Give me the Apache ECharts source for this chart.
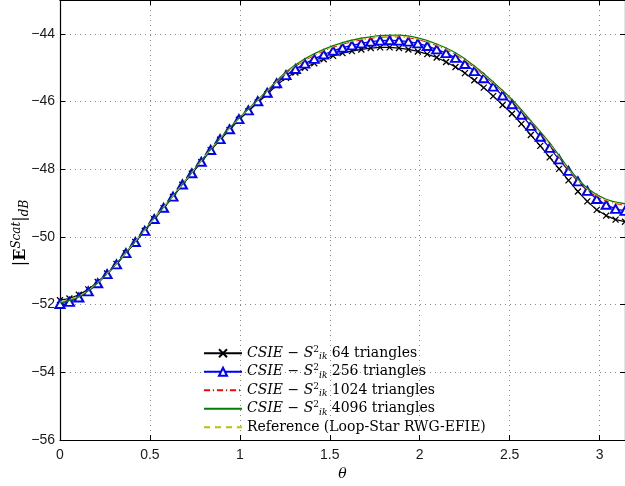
<!DOCTYPE html>
<html>
<head>
<meta charset="utf-8">
<script src="https://cdn.jsdelivr.net/npm/echarts@6/dist/echarts.min.js"></script>
<style>
html,body{margin:0;padding:0;background:#fff;}
#chart{width:625px;height:486px;}
</style>
</head>
<body>
<div id="chart"></div>
<script>
// x ticks / y ticks
const xTicks = [0, 0.5, 1, 1.5, 2, 2.5, 3];
const yTicks = [-56, -54, -52, -50, -48, -46, -44];

// sampling positions (theta): 61 points 0..pi and 31 points 0..pi
const nFine = 60;
const nCoarse = 30;

// CSIE - S2ik 64 triangles (61 points)
const csie64 = [-51.87,-51.82,-51.71,-51.55,-51.33,-51.08,-50.80,-50.48,-50.15,-49.82,
  -49.48,-49.15,-48.82,-48.46,-48.13,-47.79,-47.44,-47.13,-46.84,-46.54,
  -46.29,-46.03,-45.79,-45.52,-45.30,-45.14,-45.00,-44.87,-44.75,-44.65,
  -44.57,-44.51,-44.46,-44.42,-44.40,-44.40,-44.42,-44.46,-44.52,-44.60,
  -44.70,-44.83,-44.98,-45.16,-45.37,-45.59,-45.84,-46.10,-46.36,-46.66,
  -46.99,-47.31,-47.65,-47.99,-48.33,-48.66,-48.95,-49.20,-49.37,-49.49,-49.55];

// CSIE - S2ik 256 triangles (61 points)
const csie256 = [-51.98,-51.92,-51.79,-51.61,-51.37,-51.10,-50.81,-50.48,-50.15,-49.82,
  -49.47,-49.14,-48.81,-48.45,-48.12,-47.78,-47.43,-47.11,-46.82,-46.52,
  -46.26,-45.99,-45.74,-45.46,-45.22,-45.04,-44.88,-44.74,-44.61,-44.50,
  -44.41,-44.34,-44.28,-44.23,-44.20,-44.19,-44.20,-44.23,-44.28,-44.36,
  -44.46,-44.57,-44.71,-44.89,-45.10,-45.31,-45.56,-45.82,-46.08,-46.39,
  -46.72,-47.04,-47.37,-47.71,-48.05,-48.36,-48.64,-48.88,-49.05,-49.17,-49.23];

// CSIE - S2ik 1024 triangles (31 points)
const csie1024 = [-51.93,-51.76,-51.36,-50.80,-50.14,-49.46,-48.80,-48.11,-47.42,-46.80,
  -46.24,-45.71,-45.17,-44.79,-44.51,-44.31,-44.18,-44.10,-44.09,-44.17,
  -44.35,-44.61,-45.00,-45.47,-45.99,-46.62,-47.27,-48.03,-48.62,-48.94,-49.07];

// CSIE - S2ik 4096 triangles (31 points)
const csie4096 = [-51.95,-51.77,-51.36,-50.79,-50.13,-49.45,-48.79,-48.10,-47.41,-46.79,
  -46.22,-45.68,-45.13,-44.74,-44.46,-44.26,-44.13,-44.05,-44.04,-44.12,
  -44.30,-44.56,-44.95,-45.42,-45.94,-46.57,-47.22,-47.97,-48.56,-48.89,-49.02];

// Reference (Loop-Star RWG-EFIE) (31 points)
const reference = [-51.92,-51.75,-51.35,-50.79,-50.13,-49.45,-48.79,-48.10,-47.41,-46.79,
  -46.23,-45.70,-45.15,-44.77,-44.49,-44.29,-44.16,-44.08,-44.07,-44.15,
  -44.33,-44.59,-44.98,-45.45,-45.97,-46.60,-47.25,-48.00,-48.59,-48.91,-49.05];

const names = ['s64','s256','s1024','s4096','ref'];
const legendText = {
  s64: '{it|CSIE} {n|\u2212} {it|S}{sup|2}{sub|ik} {t|64 triangles}',
  s256: '{it|CSIE} {n|\u2212} {it|S}{sup|2}{sub|ik} {t|256 triangles}',
  s1024: '{it|CSIE} {n|\u2212} {it|S}{sup|2}{sub|ik} {t|1024 triangles}',
  s4096: '{it|CSIE} {n|\u2212} {it|S}{sup|2}{sub|ik} {t|4096 triangles}',
  ref: '{t|Reference (Loop-Star RWG-EFIE)}'
};

function pairs(arr, n) {
  return arr.map((v, i) => [i * Math.PI / n, v]);
}

const chart = echarts.init(document.getElementById('chart'), null, {renderer: 'canvas'});

const gridLine = {show: true, lineStyle: {color: '#888', type: [1, 4], width: 1}};
const axisFont = {fontFamily: 'Liberation Sans, Arial, sans-serif', fontSize: 14, color: '#1a1a1a'};
const hiddenSym = {color: 'rgba(0,0,0,0)', borderColor: 'rgba(0,0,0,0)', borderWidth: 0, opacity: 0};
const LF = 'DejaVu Serif, serif';

const option = {
  animation: false,
  backgroundColor: '#fff',
  grid: {left: 60, right: 0, top: 0, bottom: 45, containLabel: false},
  xAxis: [{
    type: 'value', min: 0, max: Math.PI, interval: 0.5,
    axisLine: {lineStyle: {color: '#000', width: 1.2}},
    axisTick: {inside: true, length: 5, lineStyle: {color: '#000'}},
    axisLabel: Object.assign({margin: 8, showMaxLabel: false,
      formatter: v => (xTicks.indexOf(Math.round(v*10)/10) >= 0 ? String(Math.round(v*10)/10) : '')}, axisFont),
    splitLine: gridLine,
    name: '\u03b8', nameLocation: 'middle', nameGap: 27,
    nameTextStyle: {fontFamily: LF, fontStyle: 'italic', fontSize: 14, color: '#000'}
  }, {
    type: 'value', min: 0, max: Math.PI, interval: 0.5, position: 'top',
    axisLine: {show: true, onZero: false, lineStyle: {color: '#000', width: 1.2}},
    axisTick: {inside: true, length: 5, lineStyle: {color: '#000'}},
    axisLabel: {show: false}, splitLine: {show: false}
  }],
  yAxis: [{
    type: 'value', min: -56, max: -43, interval: 2,
    axisLine: {show: true, onZero: false, lineStyle: {color: '#000', width: 1.2}},
    axisTick: {show: true, inside: true, length: 5, lineStyle: {color: '#000'}},
    axisLabel: Object.assign({margin: 5, showMaxLabel: false,
      formatter: v => (yTicks.indexOf(v) >= 0 ? String(v).replace('-', '\u2212') : '')}, axisFont),
    splitLine: gridLine
  }, {
    type: 'value', min: -56, max: -43, interval: 2, position: 'right',
    axisLine: {show: true, onZero: false, lineStyle: {color: '#000', width: 1.2}},
    axisTick: {show: true, inside: true, length: 5, lineStyle: {color: '#000'}},
    axisLabel: {show: false}, splitLine: {show: false}
  }],
  legend: {
    orient: 'vertical', left: 203, top: 345, padding: 0,
    itemWidth: 38, itemHeight: 10, itemGap: 2,
    data: [
      {name: 's64'},
      {name: 's256'},
      {name: 's1024', itemStyle: hiddenSym},
      {name: 's4096', itemStyle: hiddenSym},
      {name: 'ref', itemStyle: hiddenSym}
    ],
    formatter: n => legendText[n],
    textStyle: {
      fontFamily: LF, fontSize: 14, color: '#000', lineHeight: 16.5,
      rich: {
        it: {fontFamily: LF, fontStyle: 'italic', fontSize: 14, lineHeight: 16.5},
        n: {fontFamily: LF, fontSize: 14, lineHeight: 16.5},
        t: {fontFamily: LF, fontSize: 14, lineHeight: 16.5},
        sup: {fontFamily: LF, fontSize: 9, lineHeight: 8, verticalAlign: 'top'},
        sub: {fontFamily: LF, fontStyle: 'italic', fontSize: 9, lineHeight: 8, verticalAlign: 'bottom'}
      }
    }
  },
  graphic: [{
    type: 'text', rotation: Math.PI / 2,
    x: 21, y: 233,
    style: {
      text: '{n||}{b|E}{sup|Scat}{n||}{sub|dB}',
      fill: '#000',
      align: 'center', verticalAlign: 'middle',
      rich: {
        n: {fontFamily: LF, fontSize: 16, lineHeight: 20},
        b: {fontFamily: LF, fontWeight: 'bold', fontSize: 16, lineHeight: 20},
        sup: {fontFamily: LF, fontStyle: 'italic', fontSize: 12, lineHeight: 10, verticalAlign: 'top'},
        sub: {fontFamily: LF, fontStyle: 'italic', fontSize: 12, lineHeight: 10, verticalAlign: 'bottom'}
      }
    }
  }],
  series: [{
    name: 's64', type: 'line', data: pairs(csie64, nFine),
    symbol: 'path://M0 0L10 10M10 0L0 10', symbolSize: 6, showSymbol: true,
    lineStyle: {color: '#000', width: 1.2},
    itemStyle: {color: '#000', borderColor: '#000', borderWidth: 1.3},
    z: 2
  }, {
    name: 's256', type: 'line', data: pairs(csie256, nFine),
    symbol: 'emptyTriangle', symbolSize: [9, 8], showSymbol: true,
    lineStyle: {color: '#0000ff', width: 1.3},
    itemStyle: {color: '#0000ff', borderColor: '#0000ff', borderWidth: 1.3},
    z: 3
  }, {
    name: 's1024', type: 'line', data: pairs(csie1024, nCoarse), smooth: 0.3,
    symbol: 'none',
    lineStyle: {color: '#ff0000', width: 1, type: [6, 3, 1, 3]},
    itemStyle: {color: '#ff0000'},
    z: 4
  }, {
    name: 's4096', type: 'line', data: pairs(csie4096, nCoarse), smooth: 0.3,
    symbol: 'none',
    lineStyle: {color: '#008000', width: 1.3},
    itemStyle: {color: '#008000'},
    z: 5
  }, {
    name: 'ref', type: 'line', data: pairs(reference, nCoarse), smooth: 0.3,
    symbol: 'none',
    lineStyle: {color: '#bfbf00', width: 1, type: [6, 5]},
    itemStyle: {color: '#bfbf00'},
    z: 6
  }]
};
chart.setOption(option);
</script>
</body>
</html>
